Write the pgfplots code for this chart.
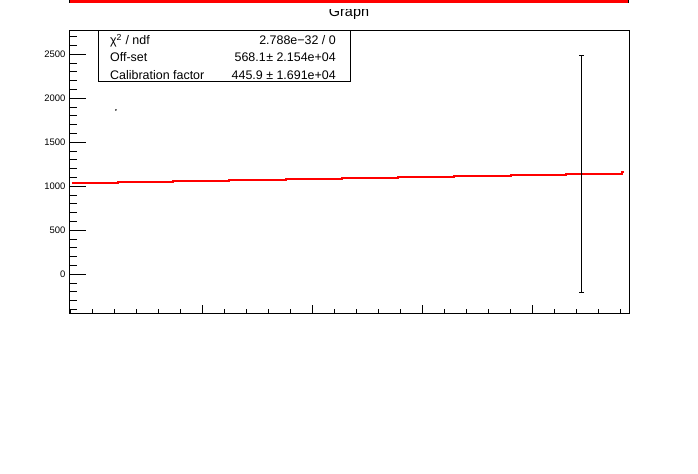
\documentclass[border=0pt]{standalone}
\usepackage{pgfplots}
\pgfplotsset{compat=1.18}
\usepackage{fontspec}
\setmainfont{Liberation Sans}
\begin{document}
\begin{tikzpicture}
\useasboundingbox (0bp,0bp) rectangle (698bp,-474bp);
\fill[white] (0bp,0bp) rectangle (698bp,-474bp);
\begin{scope}[x=1bp,y=1bp]
% clipped title band
\fill[red] (69,0) rectangle (629,-3);
\draw[black, line width=1.2bp] (69.6,0) -- (69.6,-3) (628.4,0) -- (628.4,-3);
\begin{scope}
\clip (0,-9.3) rectangle (698,-29);
\node[font=\fontsize{14.5}{14.5}\selectfont, anchor=base, inner sep=0pt] at (349,-16) {Graph};
\end{scope}
\end{scope}
\begin{axis}[
  at={(69bp,-313bp)}, anchor=south west,
  scale only axis, width=560bp, height=283bp,
  xmin=1.08955, xmax=1.34410,
  ymin=-440, ymax=2776,
  axis line style={line width=0.9bp},
  tick align=inside,
  ytick pos=left,
  ytick={0,500,1000,1500,2000,2500},
  minor ytick={-400,-300,...,2700},
  major tick length=16.8bp, minor tick length=8.4bp,
  xtick=\empty,
  tick style={black, line width=0.9bp},
  yticklabel style={font=\fontsize{9.5}{9.5}\selectfont},
  /pgf/number format/assume math mode=true,
  /pgf/number format/1000 sep={},
  clip=false,
]
% fitted calibration line (drawn as ROOT's small steps)
\addplot[red, line width=2bp, const plot, mark=none] coordinates {
  (1.0909,1041) (1.1116,1052) (1.1370,1063) (1.1623,1074) (1.1880,1085)
  (1.2136,1096) (1.2389,1107) (1.2646,1118) (1.2903,1129) (1.3156,1140)
  (1.3409,1157) (1.3420,1157)
};
% data points
\addplot[only marks, mark=*, mark size=0.5bp, black] coordinates {(1.1109,1867)};
\addplot[only marks, mark=*, mark size=0.5bp, black,
  error bars/.cd, y dir=both, y explicit,
  error bar style={line width=0.9bp, black},
  error mark options={rotate=90, mark size=2.4bp, line width=0.9bp, black}]
  coordinates {(1.3226,1140) +- (0,1352)};
\end{axis}
\begin{axis}[
  at={(69bp,-313bp)}, anchor=south west,
  scale only axis, width=560bp, height=283bp,
  xmin=1.08955, xmax=1.34410,
  ymin=-440, ymax=2776,
  hide y axis,
  axis x line*=bottom,
  axis line style={line width=0.9bp},
  tick align=inside,
  xtick={1.15,1.2,1.25,1.3},
  minor xtick={1.09,1.10,1.11,1.12,1.13,1.14,1.16,1.17,1.18,1.19,1.21,1.22,1.23,1.24,1.26,1.27,1.28,1.29,1.31,1.32,1.33,1.34},
  xticklabels={},
  major tick length=8.5bp, minor tick length=4.2bp,
  tick style={black, line width=0.9bp},
]
\addplot[draw=none] coordinates {(1.1,0)};
\end{axis}
\begin{scope}[x=1bp,y=1bp]
% statistics box
\draw[line width=0.9bp, fill=white] (98.5,-30.5) rectangle (350.5,-81.5);
\begin{scope}[every node/.style={font=\fontsize{12.5}{12.5}\selectfont, inner sep=0pt}]
\node[anchor=base west] at (110,-44.5) {χ\textsuperscript{2} / ndf};
\node[anchor=base west] at (110,-61.7) {Off-set};
\node[anchor=base west] at (110,-79) {Calibration factor};
\node[anchor=base east] at (336,-44.5) {2.788e−32 / 0};
\node[anchor=base east] at (336,-61.7) {568.1\kern0.5bp± 2.154e+04};
\node[anchor=base east] at (336,-79) {445.9 ± 1.691e+04};
\end{scope}
\end{scope}
\end{tikzpicture}
\end{document}
